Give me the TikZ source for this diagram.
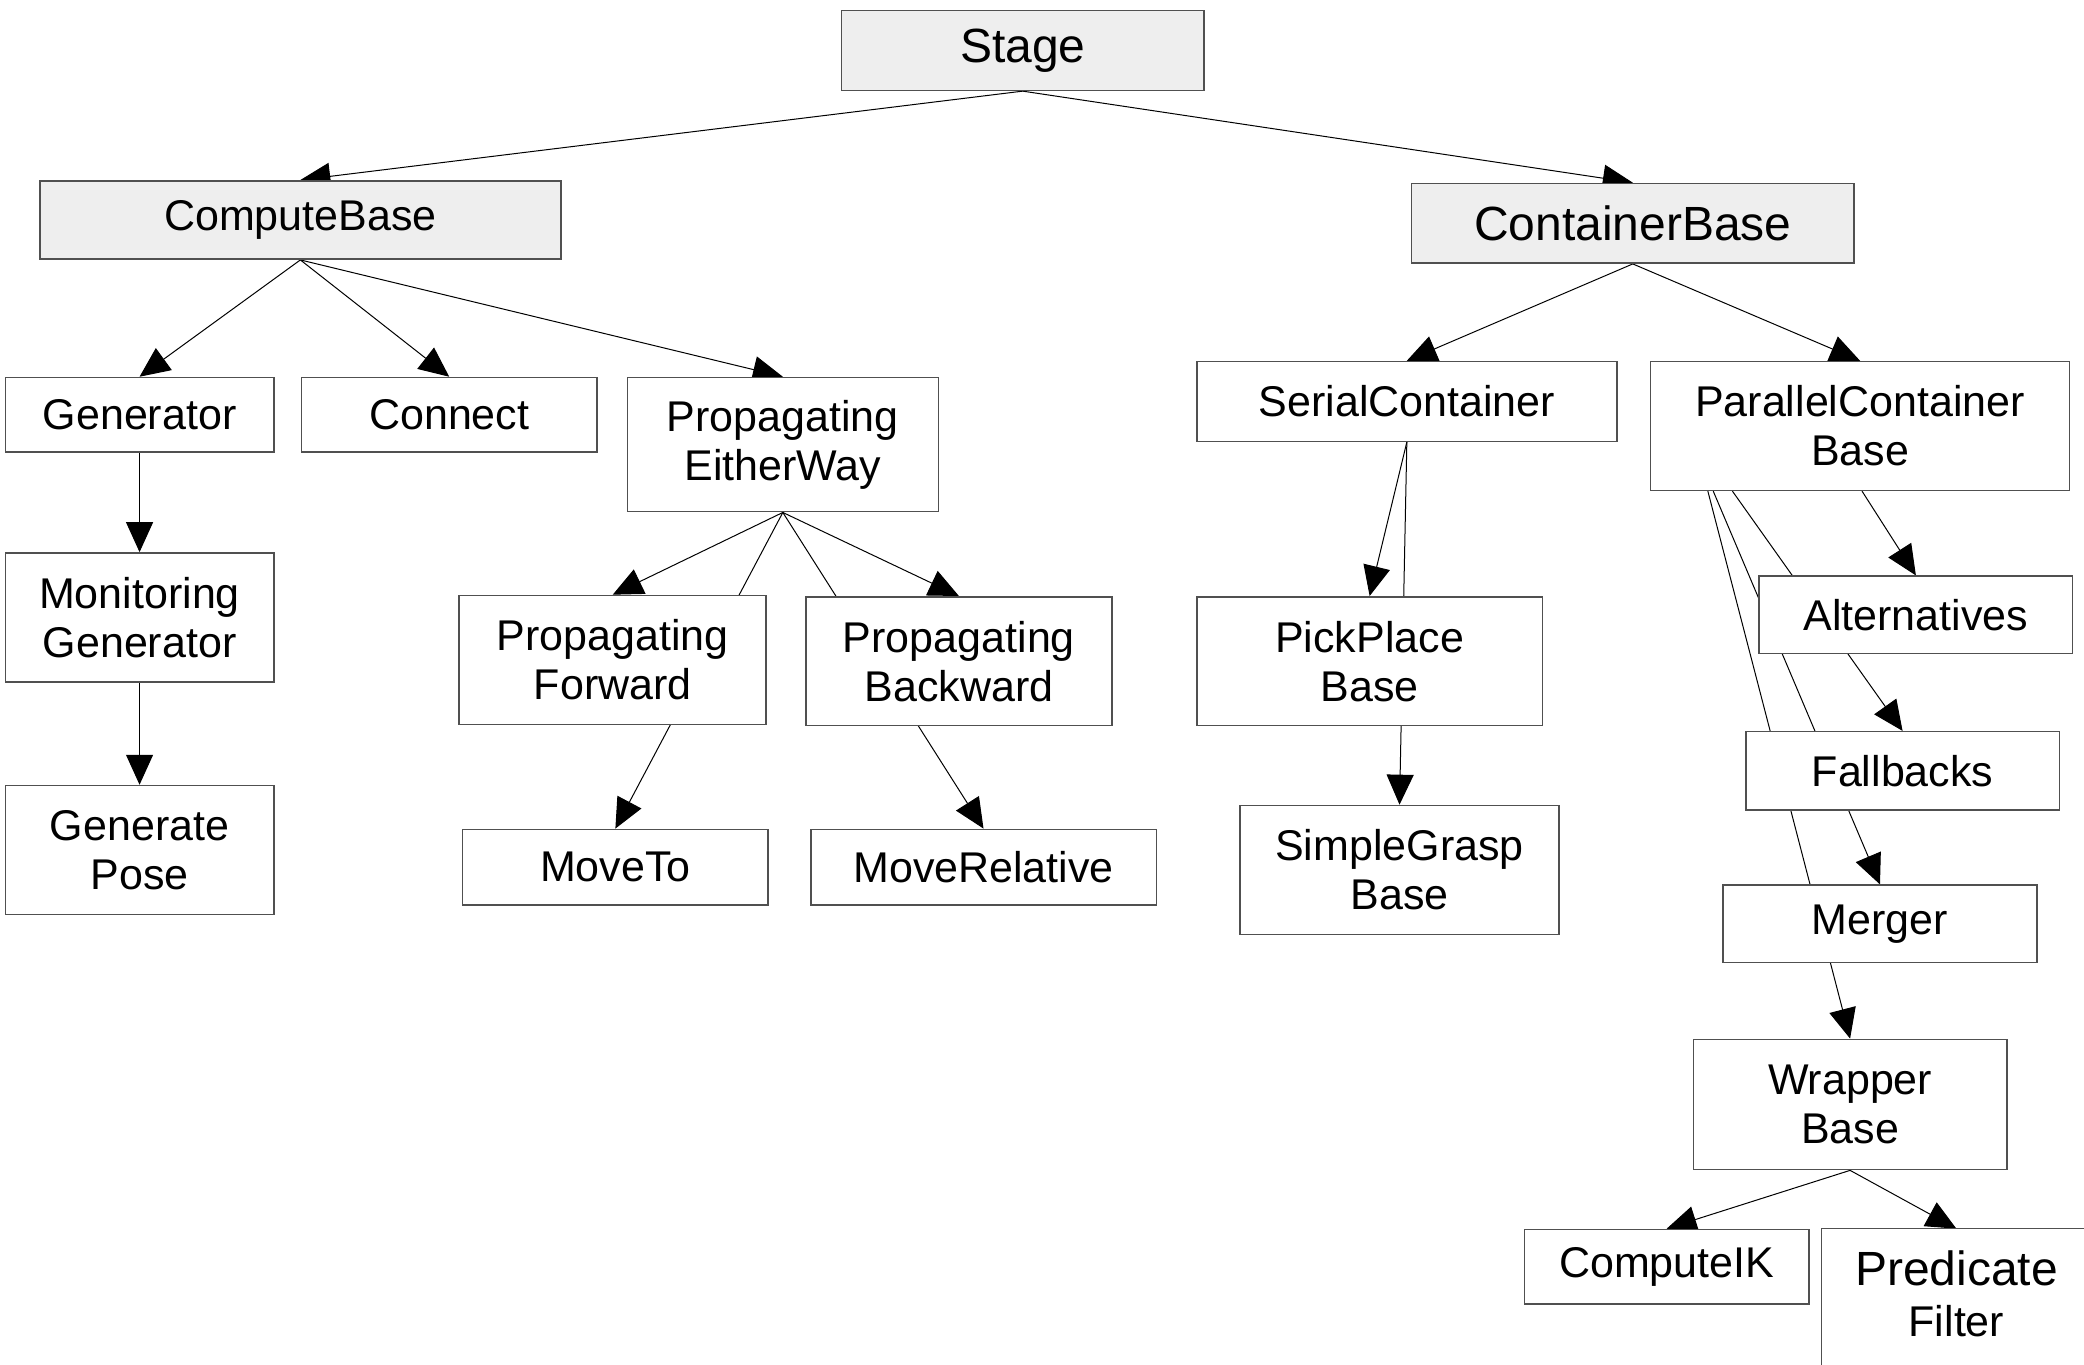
\documentclass[tikz,border=0pt]{standalone}
\usepackage{fontspec}
\setmainfont{Liberation Sans}
\usetikzlibrary{arrows.meta,backgrounds}
\definecolor{boxline}{HTML}{505050}
\definecolor{boxgray}{HTML}{EEEEEE}
\begin{document}
\begin{tikzpicture}[x=0.6645pt,y=-0.6645pt,
  box/.style={draw=boxline, line width=0.75pt, fill=white, inner sep=0pt, align=center,
    font=\fontsize{21.5}{24.5}\selectfont},
  gbox/.style={box, fill=boxgray},
  big/.style={font=\fontsize{24}{25}\selectfont},
  sz/.style 2 args={minimum width=#1*0.6645pt, minimum height=#2*0.6645pt},
  arr/.style={-{Triangle[length=15pt,width=13.5pt]}, line width=0.5pt, black}]
\useasboundingbox (0,0) rectangle (1568,1027);
\clip (0,0) rectangle (1568,1027);

\node[gbox, sz={273}{60}, big] (stage) at (769.5,38) {Stage};
\node[gbox, sz={392}{59}] (cb) at (226,165.5) {ComputeBase};
\node[gbox, sz={333}{60}, big] (ctb) at (1228.5,168) {ContainerBase};
\node[box, sz={202}{56}] (gen) at (105,312) {Generator};
\node[box, sz={222}{56}] (con) at (338,312) {Connect};
\node[box, sz={234}{101}] (pew) at (589,334.5) {Propagating\\EitherWay};
\node[box, sz={202}{97}] (mg) at (105,464.5) {Monitoring\\Generator};
\node[box, sz={202}{97}] (gp) at (105,639.5) {Generate\\Pose};
\node[box, sz={231}{97}] (pf) at (461,496.5) {Propagating\\Forward};
\node[box, sz={230}{97}] (pb) at (721.5,497.5) {Propagating\\Backward};
\node[box, sz={230}{57}] (mt) at (463,652.5) {MoveTo};
\node[box, sz={260}{57}] (mr) at (740,652.5) {MoveRelative};
\node[box, sz={316}{60}] (sc) at (1058.5,302) {SerialContainer};
\node[box, sz={315}{97}] (pcb) at (1399.5,320.5) {ParallelContainer\\Base};
\node[box, sz={260}{97}] (ppb) at (1030.5,497.5) {PickPlace\\Base};
\node[box, sz={240}{97}] (sgb) at (1053,654.5) {SimpleGrasp\\Base};
\node[box, sz={236}{58}] (alt) at (1441.5,462.5) {Alternatives};
\node[box, sz={236}{59}] (fb) at (1431.5,580) {Fallbacks};
\node[box, sz={236}{58}] (mer) at (1414.5,695) {Merger};
\node[box, sz={236}{98}] (wb) at (1392,831) {Wrapper\\Base};
\node[box, sz={214}{56}] (cik) at (1254,953) {ComputeIK};
\node[box, draw=none, sz={202}{97}, font=\fontsize{21.5}{25.3}\selectfont] (pfl) at (1472,973.5)
  {{\fontsize{24}{25.3}\selectfont Predicate}\\Filter};
\draw[boxline, line width=0.75pt] ([yshift=-40pt]pfl.south west) -- (pfl.north west)
  -- (pfl.north east) -- ([yshift=-40pt]pfl.south east);

\begin{pgfonlayer}{background}
\fill[white] (0,0) rectangle (1568,1027);
\draw[arr] (stage.south) -- (cb.north);
\draw[arr] (stage.south) -- (ctb.north);
\draw[arr] (cb.south) -- (gen.north);
\draw[arr] (cb.south) -- (con.north);
\draw[arr] (cb.south) -- (pew.north);
\draw[arr] (gen.south) -- (mg.north);
\draw[arr] (mg.south) -- (gp.north);
\draw[arr] (pew.south) -- (pf.north);
\draw[arr] (pew.south) -- (pb.north);
\draw[arr] (pew.south) -- (mt.north);
\draw[arr] (pew.south) -- (mr.north);
\draw[arr] (ctb.south) -- (sc.north);
\draw[arr] (ctb.south) -- (pcb.north);
\draw[arr] (sc.south) -- (ppb.north);
\draw[arr] (sc.south) -- (sgb.north);
\draw[arr] ([xshift=1pt]pcb.south) -- (alt.north);
\draw[arr] ([xshift=-63.8pt]pcb.south) -- (fb.north);
\draw[arr] ([xshift=-73.4pt]pcb.south) -- (mer.north);
\draw[arr] ([xshift=-76.1pt]pcb.south) -- (wb.north);
\draw[arr] (wb.south) -- (cik.north);
\draw[arr] (wb.south) -- (pfl.north);
\end{pgfonlayer}
\end{tikzpicture}
\end{document}
